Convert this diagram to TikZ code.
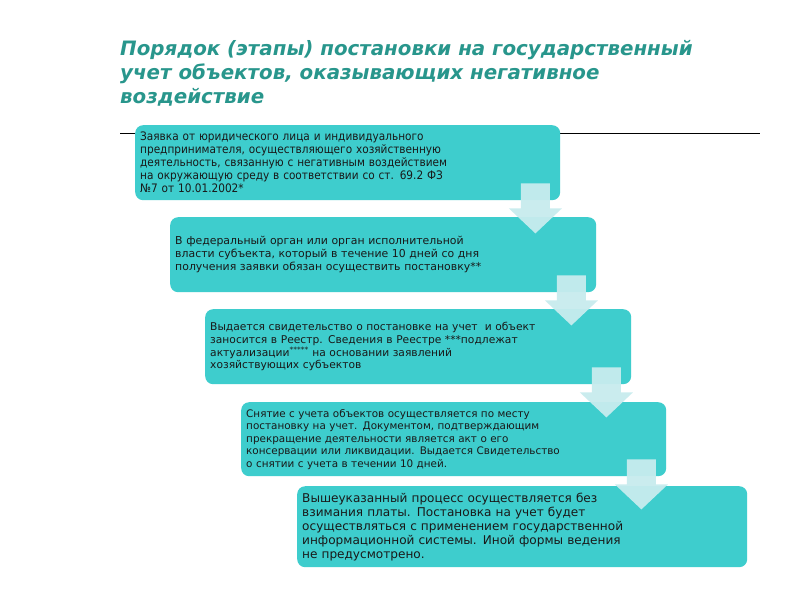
\documentclass[tikz,border=0pt]{standalone}
\usepackage{fontspec}
\setmainfont{DejaVu Sans}
\newfontfamily\condfont{DejaVu Sans Condensed}
\usetikzlibrary{calc}
\definecolor{boxfill}{RGB}{62,205,205}
\definecolor{arrowfill}{RGB}{200,236,238}
\definecolor{titlecol}{RGB}{40,150,140}
\definecolor{txt}{RGB}{25,25,25}
\tikzset{
  stagebox/.style={draw=none, fill=boxfill, rounded corners=8pt, anchor=north west,
    align=left, inner xsep=5pt, inner ysep=0pt, text=txt},
  downarrow/.style={fill=arrowfill, draw=none, fill opacity=0.95}
}
\begin{document}
\begin{tikzpicture}[x=1pt,y=-1pt]
\useasboundingbox (0,0) rectangle (800,600);
\fill[white] (0,0) rectangle (800,600);
% title
\node[anchor=base west, align=left, text=titlecol, font={\fontsize{19.8}{24}\selectfont\bfseries\itshape}, inner sep=0pt] (title) at (120,103)
 {Порядок (этапы) постановки на государственный\\учет объектов, оказывающих негативное\\воздействие};
% rule
\coordinate (rl) at (120,133);
\coordinate (rr) at (760,133);
\draw[line width=0.8pt] (rl) -- (rr);
% boxes
\node[stagebox, minimum width=425, minimum height=75, text width=415, font={\condfont\fontsize{11.7}{13}\selectfont}] (b1) at (135,125)
 {Заявка от юридического лица и индивидуального\\предпринимателя, осуществляющего хозяйственную\\деятельность, связанную с негативным воздействием\\на окружающую среду в соответствии со ст. 69.2 ФЗ\\№7 от 10.01.2002*};
\node[stagebox, minimum width=426, minimum height=75, text width=416, font={\fontsize{10.9}{13}\selectfont}] (b2) at (170,217)
 {В федеральный орган или орган исполнительной\\власти субъекта, который в течение 10 дней со дня\\получения заявки обязан осуществить постановку**};
\node[stagebox, minimum width=426, minimum height=75, text width=416, font={\fontsize{10.7}{12.7}\selectfont}] (b3) at (205,309)
 {Выдается свидетельство о постановке на учет~ и объект\\заносится в Реестр. Сведения в Реестре ***подлежат\\актуализации\textsuperscript{*****} на основании заявлений\\хозяйствующих субъектов};
\node[stagebox, minimum width=425, minimum height=74, text width=415, font={\fontsize{10.4}{12.5}\selectfont}] (b4) at (241,402)
 {Снятие с учета объектов осуществляется по месту\\постановку на учет. Документом, подтверждающим\\прекращение деятельности является акт о его\\консервации или ликвидации. Выдается Свидетельство\\о снятии с учета в течении 10 дней.};
\node[stagebox, minimum width=450, minimum height=81, text width=440, font={\fontsize{12.1}{14}\selectfont}] (b5) at (297,486)
 {Вышеуказанный процесс осуществляется без\\взимания платы. Постановка на учет будет\\осуществляться с применением государственной\\информационной системы. Иной формы ведения\\не предусмотрено.};
% arrows
\foreach \b [count=\i] in {b1,b2,b3,b4}{
  \coordinate (a\i) at ($(\b.south east)+(-25,-17)$);
  \fill[downarrow] ($(a\i)+(-14.5,0)$) -- ($(a\i)+(14.5,0)$) -- ($(a\i)+(14.5,25)$) -- ($(a\i)+(26.5,25)$)
     -- ($(a\i)+(0,50)$) -- ($(a\i)+(-26.5,25)$) -- ($(a\i)+(-14.5,25)$) -- cycle;
}
\end{tikzpicture}
\end{document}
